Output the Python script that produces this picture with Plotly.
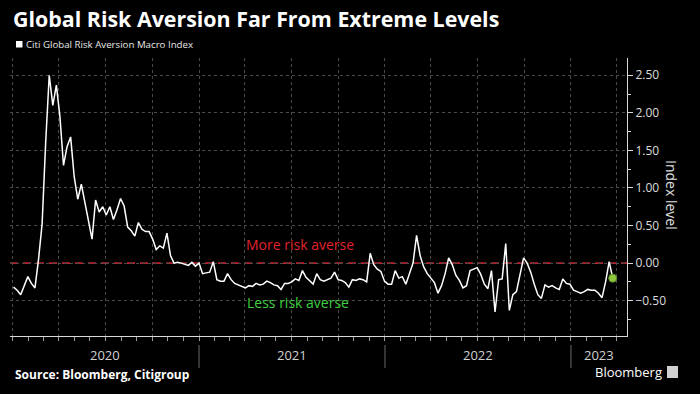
import plotly.graph_objects as go
import pandas as pd

# ---------------- data ----------------
title_text = "Global Risk Aversion Far From Extreme Levels"
series_name = "Citi Global Risk Aversion Macro Index"
source_text = "Source: Bloomberg, Citigroup"
brand_text = "Bloomberg"
y_axis_title = "Index level"
upper_label = "More risk averse"
lower_label = "Less risk averse"

start_date = "2020-01-03"   # weekly observations
index_values = [
    -0.32, -0.36, -0.42, -0.30, -0.18, -0.27, -0.33, 0.05, 0.52, 1.60,
    2.50, 2.10, 2.37, 1.95, 1.30, 1.55, 1.68, 1.15, 0.85, 1.05,
    0.80, 0.60, 0.32, 0.84, 0.68, 0.75, 0.64, 0.75, 0.58, 0.71,
    0.86, 0.76, 0.48, 0.43, 0.36, 0.54, 0.45, 0.42, 0.42, 0.32,
    0.18, 0.23, 0.20, 0.40, 0.10, 0.00, 0.01, 0.00, -0.01, -0.03,
    0.01, -0.04, 0.00, -0.14, -0.13, -0.12, 0.02, -0.22, -0.24, -0.24,
    -0.14, -0.22, -0.27, -0.29, -0.31, -0.33, -0.30, -0.31, -0.27, -0.29,
    -0.28, -0.24, -0.26, -0.29, -0.30, -0.35, -0.27, -0.27, -0.25, -0.21,
    -0.23, -0.10, -0.19, -0.24, -0.28, -0.14, -0.22, -0.24, -0.22, -0.20,
    -0.12, -0.22, -0.23, -0.26, -0.32, -0.22, -0.23, -0.21, -0.22, -0.25,
    0.13, -0.02, -0.08, -0.11, -0.24, -0.28, -0.28, -0.10, -0.20, -0.18,
    -0.28, -0.13, 0.00, 0.37, 0.10, -0.05, -0.14, -0.20, -0.26, -0.40,
    -0.30, -0.14, 0.07, -0.02, -0.16, -0.23, -0.33, -0.30, -0.10, -0.08,
    -0.06, -0.15, -0.28, -0.34, -0.10, -0.65, -0.22, -0.21, 0.26, -0.63,
    -0.42, -0.38, -0.14, 0.07, 0.00, -0.12, -0.28, -0.42, -0.47, -0.29,
    -0.32, -0.30, -0.33, -0.35, -0.21, -0.27, -0.28, -0.36, -0.38, -0.40,
    -0.38, -0.35, -0.36, -0.36, -0.40, -0.46, -0.25, 0.02, -0.20,
]
dates = pd.date_range(start_date, periods=len(index_values), freq="7D")

year_labels = ["2020", "2021", "2022", "2023"]
year_label_dates = ["2020-07-01", "2021-07-02", "2022-07-02", "2023-02-25"]
year_boundaries = ["2021-01-01", "2022-01-01", "2023-01-01"]
x_range = ["2019-12-27", "2023-04-21"]
y_range = [-0.97, 2.73]
reference_level = 0.0
upper_label_pos = ("2021-07-18", 0.25)
lower_label_pos = ("2021-07-14", -0.53)

# ---------------- layout helpers (pixel -> paper) ----------------
W, H = 700, 394
ML, MR, MT, MB = 10, 73, 58, 58
PW, PH = W - ML - MR, H - MT - MB


def px(x):
    return (x - ML) / PW


def py(y):
    return (H - MB - y) / PH


FONT = "Open Sans"
GRID = "#4a4a4a"
AXIS = "#d8d8d8"

fig = go.Figure()
fig.add_trace(go.Scatter(
    x=dates, y=index_values, mode="lines", name=series_name,
    line=dict(color="white", width=1.5), showlegend=False,
    hoverinfo="skip",
))
fig.add_trace(go.Scatter(
    x=[dates[-1]], y=[index_values[-1]], mode="markers", showlegend=False,
    marker=dict(color="#8cc63f", size=8, line=dict(color="#5f8f22", width=1)),
    hoverinfo="skip",
))

shapes = [
    # hide grid under the dashed reference line
    dict(type="line", xref="paper", yref="y", x0=0, x1=1,
         y0=reference_level, y1=reference_level,
         line=dict(color="black", width=2), layer="between"),
    dict(type="line", xref="paper", yref="y", x0=0, x1=1,
         y0=reference_level, y1=reference_level,
         line=dict(color="#b8232f", width=1.6, dash="8px,5px"), layer="between"),
    # legend swatch
    dict(type="rect", xref="paper", yref="paper",
         x0=px(16), x1=px(22.5), y0=py(47.5), y1=py(41),
         fillcolor="white", line=dict(width=0)),
    # Bloomberg icon
    dict(type="rect", xref="paper", yref="paper",
         x0=px(667), x1=px(678), y0=py(378), y1=py(366),
         fillcolor="#d0d0d0", line=dict(width=0)),
]
for b in year_boundaries:
    shapes.append(dict(type="line", xref="x", yref="paper", x0=b, x1=b,
                       y0=py(345), y1=py(368),
                       line=dict(color="#6a6a6a", width=1)))

annotations = [
    dict(text="<b>" + title_text + "</b>", xref="paper", yref="paper",
         x=px(11), y=py(18), xanchor="left", yanchor="middle", showarrow=False,
         font=dict(family=FONT, size=21.4, color="white")),
    dict(text=series_name, xref="paper", yref="paper",
         x=px(24), y=py(44), xanchor="left", yanchor="middle", showarrow=False,
         font=dict(family=FONT, size=9.7, color="#e8e8e8")),
    dict(text=y_axis_title, xref="paper", yref="paper",
         x=px(672), y=py(195), xanchor="center", yanchor="middle",
         textangle=90, showarrow=False,
         font=dict(family=FONT, size=14, color="#e0e0e0")),
    dict(text=upper_label, xref="x", yref="y",
         x=upper_label_pos[0], y=upper_label_pos[1], showarrow=False,
         font=dict(family=FONT, size=14, color="#e0242c")),
    dict(text=lower_label, xref="x", yref="y",
         x=lower_label_pos[0], y=lower_label_pos[1], showarrow=False,
         font=dict(family=FONT, size=14, color="#3fcf3f")),
    dict(text="<b>" + source_text + "</b>", xref="paper", yref="paper",
         x=px(13), y=py(374), xanchor="left", yanchor="middle", showarrow=False,
         font=dict(family=FONT, size=12, color="white")),
    dict(text=brand_text, xref="paper", yref="paper",
         x=px(664), y=py(372), xanchor="right", yanchor="middle", showarrow=False,
         font=dict(family=FONT, size=13, color="white")),
]
for lab, d in zip(year_labels, year_label_dates):
    annotations.append(dict(text=lab, xref="x", yref="paper", x=d, y=py(355),
                            xanchor="center", yanchor="middle", showarrow=False,
                            font=dict(family=FONT, size=13, color="#d0d0d0")))

fig.update_layout(
    width=W, height=H,
    margin=dict(l=ML, r=MR, t=MT, b=MB),
    paper_bgcolor="black", plot_bgcolor="black",
    showlegend=False,
    shapes=shapes, annotations=annotations,
    font=dict(family=FONT, color="#dddddd"),
    xaxis=dict(
        type="date", range=x_range,
        showticklabels=False,
        dtick="M3", tick0="2020-01-01",
        ticks="outside", ticklen=4, tickcolor="#9a9a9a",
        showgrid=True, gridcolor=GRID, griddash="dot", gridwidth=1,
        showline=True, linecolor=AXIS, linewidth=1,
        zeroline=False,
        minor=dict(dtick="M1", tick0="2020-01-01", ticks="outside",
                   ticklen=4, tickcolor="#9a9a9a", showgrid=False),
    ),
    yaxis=dict(
        side="right", range=y_range,
        dtick=0.5, tick0=0, tickformat=".2f",
        ticks="outside", ticklen=5, tickcolor=AXIS,
        tickfont=dict(family=FONT, size=12, color="#dddddd"),
        showgrid=True, gridcolor=GRID, griddash="dot", gridwidth=1,
        showline=True, linecolor=AXIS, linewidth=1,
        zeroline=False,
        minor=dict(dtick=0.25, tick0=0, ticks="outside", ticklen=3,
                   tickcolor=AXIS, showgrid=False),
    ),
)

fig.write_html(
    "out.html",
    config={"displayModeBar": False},
    post_script="document.body.style.margin='0';document.body.style.background='black';",
)
